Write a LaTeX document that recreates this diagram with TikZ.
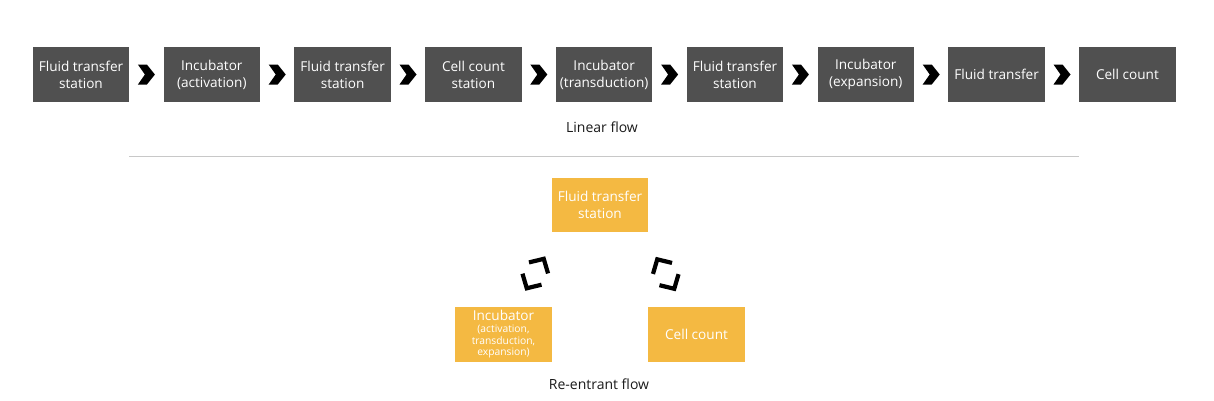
\documentclass[tikz,border=0pt]{standalone}
\usepackage{fontspec}
\setmainfont{Open Sans}
\usepackage{tikz}
\usetikzlibrary{positioning,calc}
\definecolor{boxgrey}{HTML}{505050}
\definecolor{boxgold}{HTML}{F4B942}
\definecolor{capgrey}{HTML}{1A1A1A}
\definecolor{rulegrey}{HTML}{C8C8C8}
\newcommand{\smtxt}{\fontsize{10.3}{17}\selectfont}

\tikzset{
  chev/.pic={\fill[black] (-8.5,10) -- (0.5,10) -- (8.5,0) -- (0.5,-10) -- (-8.5,-10) -- (-1.5,0) -- cycle;},
  bichev/.pic={\draw[black,line width=4.2pt,line join=miter] (6.5,11) -- (17,0) -- (6.5,-11) (-6.5,11) -- (-17,0) -- (-6.5,-11);}
}

\begin{document}
\begin{tikzpicture}[x=1pt,y=1pt,
  box/.style={minimum width=96.5pt,minimum height=54.5pt,inner sep=0pt,outer sep=0pt,align=center,text=white,font=\fontsize{13.6}{17}\selectfont},
  dark/.style={box,fill=boxgrey},
  gold/.style={box,fill=boxgold},
  caption/.style={text=capgrey,font=\fontsize{14}{16}\selectfont},
  node distance=34.3pt]

\useasboundingbox (0,0) rectangle (1214,-400);

\node[dark] (ft1) at (81,-74.5) {Fluid transfer\\station};
\node[dark,right=of ft1] (ia) {Incubator\\(activation)};
\node[dark,right=of ia] (ft2) {Fluid transfer\\station};
\node[dark,right=of ft2] (cc1) {Cell count\\station};
\node[dark,right=of cc1] (it) {Incubator\\(transduction)};
\node[dark,right=of it] (ft3) {Fluid transfer\\station};
\node[dark,right=of ft3] (ie) {Incubator\\(expansion)};
\node[dark,right=of ie] (ft4) {Fluid transfer};
\node[dark,right=of ft4] (cc2) {Cell count};

\path
(ft1) -- pic[pos=.5] {chev} (ia)
(ia) -- pic[pos=.5] {chev} (ft2)
(ft2) -- pic[pos=.5] {chev} (cc1)
(cc1) -- pic[pos=.5] {chev} (it)
(it) -- pic[pos=.5] {chev} (ft3)
(ft3) -- pic[pos=.5] {chev} (ie)
(ie) -- pic[pos=.5] {chev} (ft4)
(ft4) -- pic[pos=.5] {chev} (cc2)
;

\node[caption] (lin) at (602,-127) {Linear flow};
\draw[rulegrey,line width=1pt] ([yshift=-55pt]ft1.south east) -- ([yshift=-55pt]cc2.south west);

\node[gold] (ft) at (600,-204.8) {Fluid transfer\\station};
\node[gold,below left=75pt and 0pt of ft] (inc) {Incubator\\[-5pt]\smtxt(activation,\\[-5.5pt]\smtxt transduction,\\[-5.5pt]\smtxt expansion)};
\node[gold,below right=75pt and 0pt of ft] (cc) {Cell count};

\pic[rotate=60] at ($(ft)!.5!(inc)+(-16.5,-4)$) {bichev};
\pic[rotate=120] at ($(ft)!.5!(cc)+(17.5,-4.5)$) {bichev};

\node[caption] (reen) at (599,-384.5) {Re-entrant flow};

\end{tikzpicture}
\end{document}
